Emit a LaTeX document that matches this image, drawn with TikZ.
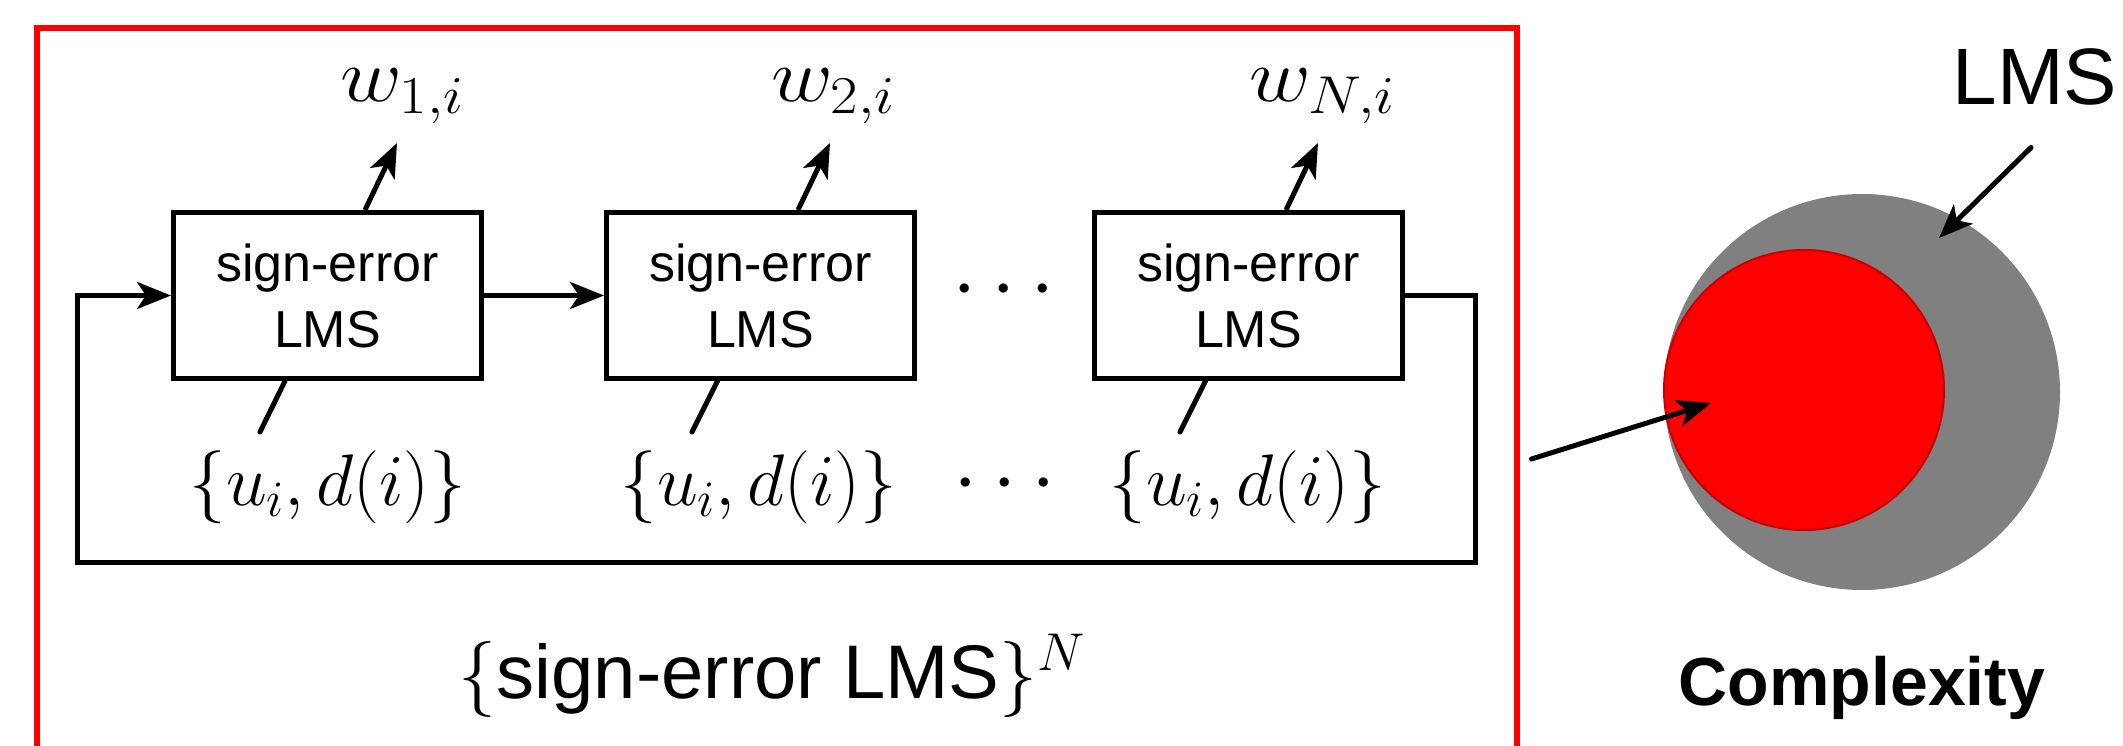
\RequirePackage{fix-cm}
\documentclass[tikz,border=0pt]{standalone}
\usepackage{fontspec}
\setsansfont{Liberation Sans}
\usetikzlibrary{arrows.meta}
\definecolor{lmsgray}{RGB}{128,128,128}
\definecolor{darkred}{RGB}{200,0,0}
\begin{document}
\begin{tikzpicture}[x=1pt,y=-1pt,
  blk/.style={draw, line width=5pt, minimum width=308pt, minimum height=166pt,
    align=center, inner sep=0pt, font=\sffamily\fontsize{52}{66}\selectfont},
  tip/.style={-{Stealth[length=34pt,width=27pt,inset=9pt]}},
  wire/.style={line width=5pt},
  feed/.style={line width=5pt, line cap=round},
  wlbl/.style={inner sep=0pt, font=\fontsize{76}{80}\selectfont, xscale=1.12},
  ulbl/.style={inner sep=0pt, font=\fontsize{73}{76}\selectfont},
  dots/.style={inner sep=0pt, font=\fontsize{88}{90}\selectfont},
]
\useasboundingbox (0,0) rectangle (2123,746);

% frame around the chain of filters
\draw[red, line width=6pt] (36.5,750) -- (36.5,28.5) -- (1516.5,28.5) -- (1516.5,750);

% sign-error LMS blocks
\node[blk] (b1) at (327.5,295.5) {sign-error\\LMS};
\node[blk] (b2) at (760.5,295.5) {sign-error\\LMS};
\node[blk] (b3) at (1248.5,295.5) {sign-error\\LMS};

% weight outputs
\coordinate (t1) at (397,143);
\coordinate (t2) at (830,143);
\coordinate (t3) at (1318,143);
\node[wlbl, anchor=base] (w1) at (402,102) {$w_{1,i}$};
\node[wlbl, anchor=base] (w2) at (833,102) {$w_{2,i}$};
\node[wlbl, anchor=base] (w3) at (1322,102) {$w_{N,i}$};
\draw[wire, tip] ([xshift=37.5pt]b1.north) -- (t1);
\draw[wire, tip] ([xshift=37.5pt]b2.north) -- (t2);
\draw[wire, tip] ([xshift=37.5pt]b3.north) -- (t3);

% data inputs
\coordinate (i1) at (260,432);
\coordinate (i2) at (692,432);
\coordinate (i3) at (1180,432);
\draw[feed] ([xshift=-42.5pt]b1.south) -- (i1);
\draw[feed] ([xshift=-43pt]b2.south) -- (i2);
\draw[feed] ([xshift=-43pt]b3.south) -- (i3);
\node[ulbl] (u1) at (328,487) {$\{u_i,d(i)\}$};
\node[ulbl] (u2) at (759,487) {$\{u_i,d(i)\}$};
\node[ulbl] (u3) at (1248,487) {$\{u_i,d(i)\}$};

% ellipses
\node[dots] (d1) at (1004,291) {$\cdots$};
\node[dots] (d2) at (1005,485) {$\cdots$};

% chain links and feedback
\coordinate (fr) at (1475.5,562);
\coordinate (fl) at (77.5,562);
\draw[wire, tip] (b1.east) -- (b2.west);
\draw[wire, tip] (b3.east) -| (fr) -- (fl) |- (b1.west);

% caption of the frame
\node[inner sep=0pt, font=\fontsize{76}{80}\selectfont] (cap) at (772,676)
  {$\{$\sffamily sign-error LMS$\}^N$};

% complexity comparison
\fill[lmsgray] (1862,392) circle[radius=198];
\draw[darkred, line width=2pt, fill=red] (1804,390) circle[radius=140];
\node[inner sep=0pt, font=\sffamily\fontsize{80}{84}\selectfont] (lms) at (2035,77) {LMS};
\coordinate (p1) at (1531.5,459);
\coordinate (p2) at (1711,403);
\coordinate (p3) at (1939,238);
\draw[wire, line cap=round, tip] (p1) -- (p2);
\draw[wire, line cap=round, tip] ([xshift=-4pt,yshift=-42pt]lms.south) -- (p3);
\node[inner sep=0pt, font=\sffamily\bfseries\fontsize{68}{72}\selectfont] (cx) at (1862,688) {Complexity};
\end{tikzpicture}
\end{document}
